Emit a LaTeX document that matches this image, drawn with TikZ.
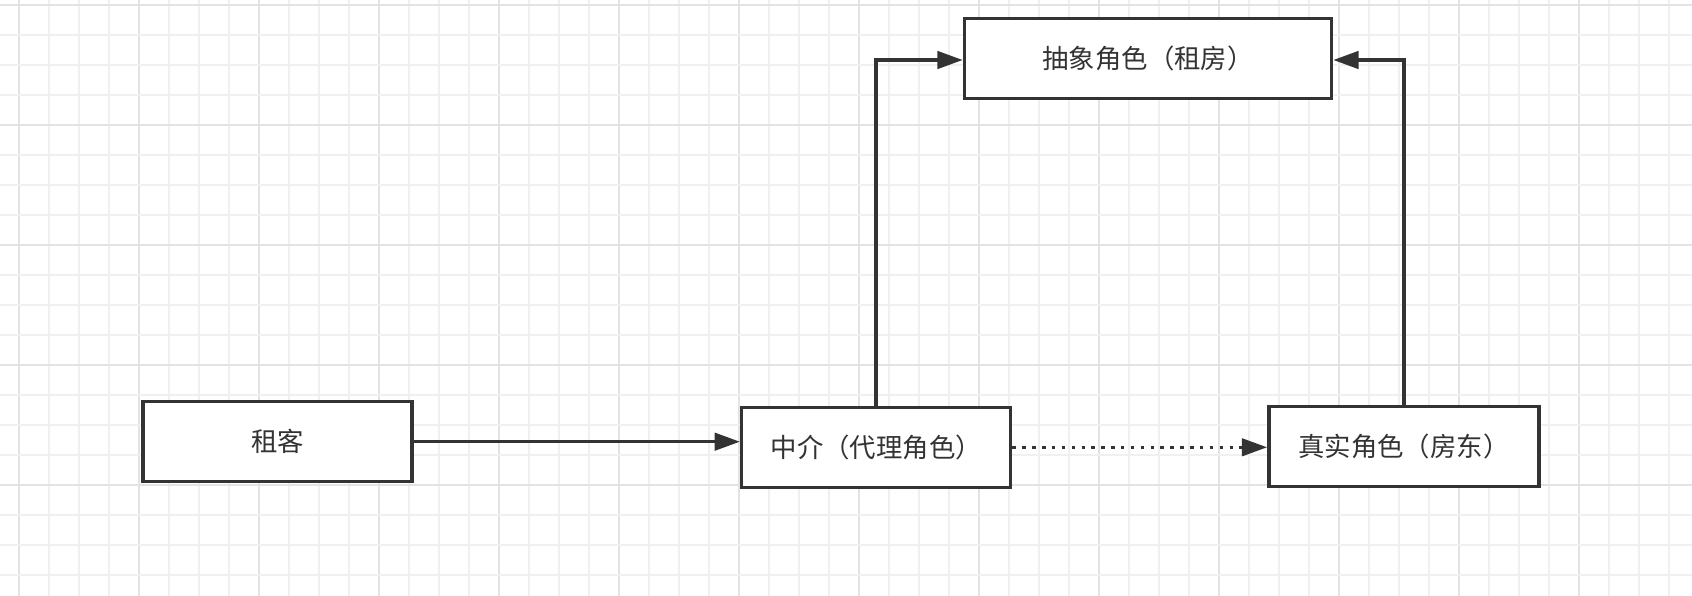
\documentclass[tikz,border=0pt]{standalone}
\usepackage{fontspec}
\newfontfamily\cjk{Noto Sans CJK SC}
\usetikzlibrary{arrows.meta,calc}
\definecolor{ink}{HTML}{333333}
\definecolor{gminor}{HTML}{F0F0F0}
\definecolor{gmajor}{HTML}{E3E3E3}
\tikzset{
  box/.style={draw=ink, line width=2.6pt, fill=white, inner sep=0pt,
    minimum width=201.75pt, minimum height=60pt, text=ink,
    font=\cjk\fontsize{19.8}{22}\selectfont},
  conn/.style={draw=ink, line width=2.6pt, line join=miter,
    -{Triangle[length=19pt,width=13pt]}},
  dotconn/.style={conn, dash pattern=on 2.6pt off 4.8pt},
  gridminor/.style={gminor, line width=1.2pt},
  gridmajor/.style={gmajor, line width=1.6pt}
}
\begin{document}
\begin{tikzpicture}[x=0.75pt,y=-0.75pt]
\useasboundingbox (0,0) rectangle (1692,596);
\fill[white] (0,0) rectangle (1692,596);
% grid
\foreach \k in {0,...,55}{
  \pgfmathtruncatemacro{\m}{mod(\k,4)}
  \ifnum\m=0\relax
    \draw[gridmajor] ({19+30*\k},0) -- ({19+30*\k},596);
  \else
    \draw[gridminor] ({19+30*\k},0) -- ({19+30*\k},596);
  \fi
}
\foreach \k in {0,...,19}{
  \pgfmathtruncatemacro{\m}{mod(\k,4)}
  \ifnum\m=0\relax
    \draw[gridmajor] (0,{5+30*\k}) -- (1692,{5+30*\k});
  \else
    \draw[gridminor] (0,{5+30*\k}) -- (1692,{5+30*\k});
  \fi
}
% nodes
\node[box] (zk) at (277.5,441.7) {租客};
\node[box] (zj) at (876.2,447.3) {中介（代理角色）};
\node[box, minimum width=202.5pt] (zs) at (1403.9,446.6) {真实角色（房东）};
\node[box, minimum width=275.25pt] (ab) at (1148,58.3) {抽象角色（租房）};
% connectors
\coordinate (abw) at ($(ab.west)+(0,1.7)$);
\coordinate (abe) at ($(ab.east)+(0,1.7)$);
\draw[conn] (zk.east) -- (zk.east -| zj.west);
\draw[dotconn] (zj.east) -- (zj.east -| zs.west);
\draw[conn] (zj.north) |- (abw);
\draw[conn] (zs.north) |- (abe);
\end{tikzpicture}
\end{document}
